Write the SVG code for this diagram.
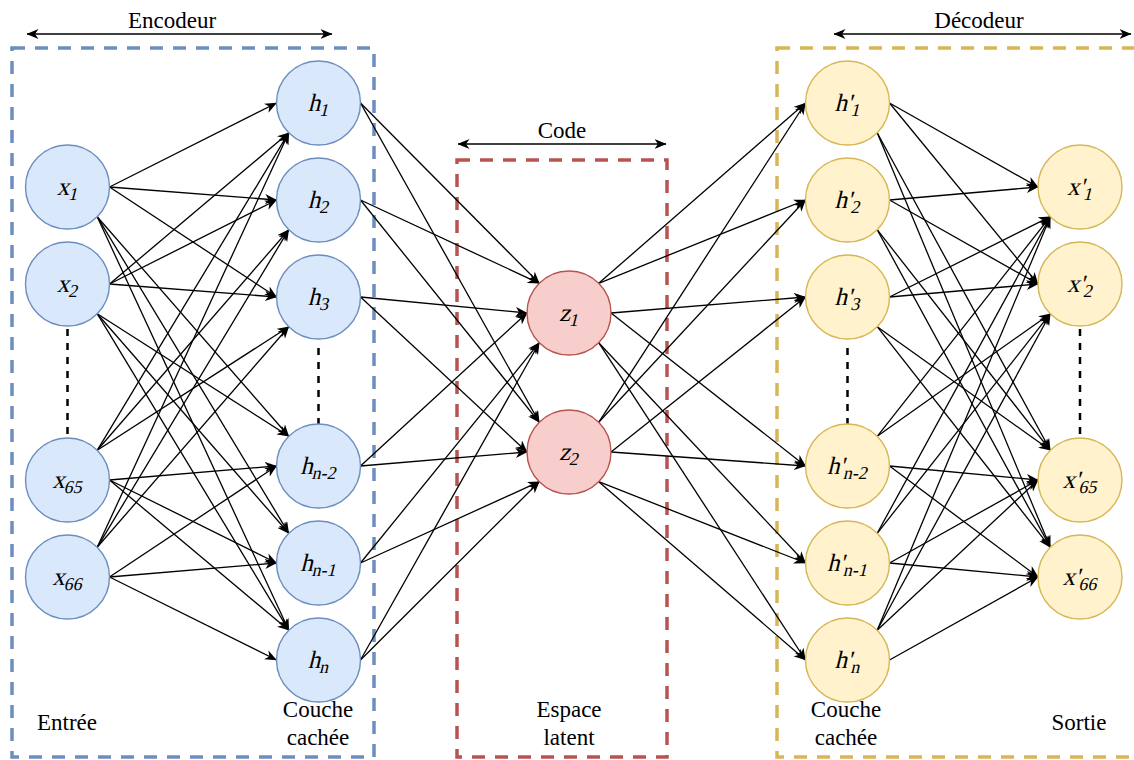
<svg xmlns="http://www.w3.org/2000/svg" width="1134" height="760" viewBox="0 0 1134 760">
<style>
.box{fill:none;stroke-width:3.5;stroke-dasharray:13 10}
.enc{fill:#dae8fc;stroke:#6c8ebf;stroke-width:1.4}
.lat{fill:#f8cecc;stroke:#b85450;stroke-width:1.4}
.dec{fill:#fff2cc;stroke:#d6b656;stroke-width:1.4}
.lbl{font-family:"Liberation Serif",serif;font-size:25px;fill:#000;text-anchor:middle}
.sub{font-size:18px}
.txt{font-family:"Liberation Serif",serif;font-size:23px;fill:#000;text-anchor:middle}
.e{stroke:#000;stroke-width:1.3;fill:none;marker-end:url(#ah)}
.dbl{stroke:#000;stroke-width:1.3;fill:none;marker-end:url(#ah);marker-start:url(#ah)}
.dots{stroke:#000;stroke-width:2.5;stroke-dasharray:7 7;fill:none}
</style>
<defs>
<marker id="ah" markerUnits="userSpaceOnUse" viewBox="0 0 12 10" markerWidth="12" markerHeight="10" refX="11.5" refY="5" orient="auto-start-reverse">
<path d="M0,0 L12,5 L0,10 L3.5,5 Z" fill="#000"/>
</marker>
</defs>
<rect width="1134" height="760" fill="#fff"/>

<g id="group-boxes">
<rect class="box" x="12" y="48" width="362" height="709" stroke="#6c8ebf"/>
<rect class="box" x="457" y="160" width="210" height="597" stroke="#b85450"/>
<rect class="box" x="777" y="48" width="362" height="709" stroke="#d6b656"/>
</g>

<g id="top-labels">
<line class="dbl" x1="27" y1="34" x2="332" y2="34"/>
<text class="txt" x="172" y="28">Encodeur</text>
<line class="dbl" x1="458" y1="144" x2="666" y2="144"/>
<text class="txt" x="562" y="138">Code</text>
<line class="dbl" x1="834" y1="34" x2="1131" y2="34"/>
<text class="txt" x="979" y="28">Décodeur</text>
</g>

<g id="ellipsis">
<line class="dots" x1="67.5" y1="329" x2="67.5" y2="438"/>
<line class="dots" x1="318.5" y1="348" x2="318.5" y2="424"/>
<line class="dots" x1="847.5" y1="348" x2="847.5" y2="424"/>
<line class="dots" x1="1080" y1="329" x2="1080" y2="438"/>
</g>

<g id="connectors">
<line class="e" x1="109.5" y1="187" x2="276.5" y2="103"/>
<line class="e" x1="109.5" y1="187" x2="276.5" y2="200"/>
<line class="e" x1="109.5" y1="187" x2="276.5" y2="297"/>
<line class="e" x1="97.2" y1="216.7" x2="288.8" y2="436.3"/>
<line class="e" x1="97.2" y1="216.7" x2="288.8" y2="533.3"/>
<line class="e" x1="97.2" y1="216.7" x2="288.8" y2="630.3"/>
<line class="e" x1="109.5" y1="284" x2="288.8" y2="132.7"/>
<line class="e" x1="109.5" y1="284" x2="276.5" y2="200"/>
<line class="e" x1="109.5" y1="284" x2="276.5" y2="297"/>
<line class="e" x1="97.2" y1="313.7" x2="288.8" y2="436.3"/>
<line class="e" x1="97.2" y1="313.7" x2="288.8" y2="533.3"/>
<line class="e" x1="97.2" y1="313.7" x2="288.8" y2="630.3"/>
<line class="e" x1="97.2" y1="450.3" x2="288.8" y2="132.7"/>
<line class="e" x1="97.2" y1="450.3" x2="288.8" y2="229.7"/>
<line class="e" x1="97.2" y1="450.3" x2="288.8" y2="326.7"/>
<line class="e" x1="109.5" y1="480" x2="276.5" y2="466"/>
<line class="e" x1="109.5" y1="480" x2="276.5" y2="563"/>
<line class="e" x1="109.5" y1="480" x2="288.8" y2="630.3"/>
<line class="e" x1="97.2" y1="547.3" x2="288.8" y2="132.7"/>
<line class="e" x1="97.2" y1="547.3" x2="288.8" y2="229.7"/>
<line class="e" x1="97.2" y1="547.3" x2="288.8" y2="326.7"/>
<line class="e" x1="109.5" y1="577" x2="276.5" y2="466"/>
<line class="e" x1="109.5" y1="577" x2="276.5" y2="563"/>
<line class="e" x1="109.5" y1="577" x2="276.5" y2="660"/>
<line class="e" x1="360.5" y1="103" x2="539.3" y2="283.3"/>
<line class="e" x1="360.5" y1="103" x2="539.3" y2="422.3"/>
<line class="e" x1="360.5" y1="200" x2="539.3" y2="283.3"/>
<line class="e" x1="360.5" y1="200" x2="539.3" y2="422.3"/>
<line class="e" x1="360.5" y1="297" x2="527" y2="313"/>
<line class="e" x1="360.5" y1="297" x2="527" y2="452"/>
<line class="e" x1="360.5" y1="466" x2="527" y2="313"/>
<line class="e" x1="360.5" y1="466" x2="527" y2="452"/>
<line class="e" x1="360.5" y1="563" x2="539.3" y2="342.7"/>
<line class="e" x1="360.5" y1="563" x2="539.3" y2="481.7"/>
<line class="e" x1="360.5" y1="660" x2="539.3" y2="342.7"/>
<line class="e" x1="360.5" y1="660" x2="539.3" y2="481.7"/>
<line class="e" x1="598.7" y1="283.3" x2="805.5" y2="103"/>
<line class="e" x1="598.7" y1="283.3" x2="805.5" y2="200"/>
<line class="e" x1="611" y1="313" x2="805.5" y2="297"/>
<line class="e" x1="611" y1="313" x2="805.5" y2="466"/>
<line class="e" x1="598.7" y1="342.7" x2="805.5" y2="563"/>
<line class="e" x1="598.7" y1="342.7" x2="805.5" y2="660"/>
<line class="e" x1="598.7" y1="422.3" x2="805.5" y2="103"/>
<line class="e" x1="598.7" y1="422.3" x2="805.5" y2="200"/>
<line class="e" x1="611" y1="452" x2="805.5" y2="297"/>
<line class="e" x1="611" y1="452" x2="805.5" y2="466"/>
<line class="e" x1="598.7" y1="481.7" x2="805.5" y2="563"/>
<line class="e" x1="598.7" y1="481.7" x2="805.5" y2="660"/>
<line class="e" x1="889.5" y1="103" x2="1038" y2="187"/>
<line class="e" x1="889.5" y1="103" x2="1038" y2="284"/>
<line class="e" x1="877.2" y1="132.7" x2="1050.3" y2="450.3"/>
<line class="e" x1="877.2" y1="132.7" x2="1050.3" y2="547.3"/>
<line class="e" x1="889.5" y1="200" x2="1038" y2="187"/>
<line class="e" x1="889.5" y1="200" x2="1038" y2="284"/>
<line class="e" x1="877.2" y1="229.7" x2="1050.3" y2="450.3"/>
<line class="e" x1="877.2" y1="229.7" x2="1050.3" y2="547.3"/>
<line class="e" x1="889.5" y1="297" x2="1050.3" y2="216.7"/>
<line class="e" x1="889.5" y1="297" x2="1038" y2="284"/>
<line class="e" x1="877.2" y1="326.7" x2="1050.3" y2="450.3"/>
<line class="e" x1="877.2" y1="326.7" x2="1050.3" y2="547.3"/>
<line class="e" x1="877.2" y1="436.3" x2="1050.3" y2="216.7"/>
<line class="e" x1="877.2" y1="436.3" x2="1050.3" y2="313.7"/>
<line class="e" x1="889.5" y1="466" x2="1038" y2="480"/>
<line class="e" x1="889.5" y1="466" x2="1038" y2="577"/>
<line class="e" x1="877.2" y1="533.3" x2="1050.3" y2="216.7"/>
<line class="e" x1="877.2" y1="533.3" x2="1050.3" y2="313.7"/>
<line class="e" x1="889.5" y1="563" x2="1038" y2="480"/>
<line class="e" x1="889.5" y1="563" x2="1038" y2="577"/>
<line class="e" x1="877.2" y1="630.3" x2="1050.3" y2="216.7"/>
<line class="e" x1="877.2" y1="630.3" x2="1050.3" y2="313.7"/>
<line class="e" x1="877.2" y1="630.3" x2="1038" y2="480"/>
<line class="e" x1="889.5" y1="660" x2="1038" y2="577"/>
</g>

<g id="node-x1"><circle class="enc" cx="67.5" cy="187" r="42"/><text class="lbl" transform="translate(67.5 195) skewX(-14)">x<tspan class="sub" dy="5">1</tspan></text></g>
<g id="node-x2"><circle class="enc" cx="67.5" cy="284" r="42"/><text class="lbl" transform="translate(67.5 292) skewX(-14)">x<tspan class="sub" dy="5">2</tspan></text></g>
<g id="node-x65"><circle class="enc" cx="67.5" cy="480" r="42"/><text class="lbl" transform="translate(67.5 488) skewX(-14)">x<tspan class="sub" dy="5">65</tspan></text></g>
<g id="node-x66"><circle class="enc" cx="67.5" cy="577" r="42"/><text class="lbl" transform="translate(67.5 585) skewX(-14)">x<tspan class="sub" dy="5">66</tspan></text></g>

<g id="node-h1"><circle class="enc" cx="318.5" cy="103" r="42"/><text class="lbl" transform="translate(318.5 111) skewX(-14)">h<tspan class="sub" dy="5">1</tspan></text></g>
<g id="node-h2"><circle class="enc" cx="318.5" cy="200" r="42"/><text class="lbl" transform="translate(318.5 208) skewX(-14)">h<tspan class="sub" dy="5">2</tspan></text></g>
<g id="node-h3"><circle class="enc" cx="318.5" cy="297" r="42"/><text class="lbl" transform="translate(318.5 305) skewX(-14)">h<tspan class="sub" dy="5">3</tspan></text></g>
<g id="node-hn-2"><circle class="enc" cx="318.5" cy="466" r="42"/><text class="lbl" transform="translate(318.5 474) skewX(-14)">h<tspan class="sub" dy="5">n-2</tspan></text></g>
<g id="node-hn-1"><circle class="enc" cx="318.5" cy="563" r="42"/><text class="lbl" transform="translate(318.5 571) skewX(-14)">h<tspan class="sub" dy="5">n-1</tspan></text></g>
<g id="node-hn"><circle class="enc" cx="318.5" cy="660" r="42"/><text class="lbl" transform="translate(318.5 668) skewX(-14)">h<tspan class="sub" dy="5">n</tspan></text></g>

<g id="node-z1"><circle class="lat" cx="569" cy="313" r="42"/><text class="lbl" transform="translate(569 321) skewX(-14)">z<tspan class="sub" dy="5">1</tspan></text></g>
<g id="node-z2"><circle class="lat" cx="569" cy="452" r="42"/><text class="lbl" transform="translate(569 460) skewX(-14)">z<tspan class="sub" dy="5">2</tspan></text></g>

<g id="node-hp1"><circle class="dec" cx="847.5" cy="103" r="42"/><text class="lbl" transform="translate(847.5 111) skewX(-14)">h'<tspan class="sub" dy="5">1</tspan></text></g>
<g id="node-hp2"><circle class="dec" cx="847.5" cy="200" r="42"/><text class="lbl" transform="translate(847.5 208) skewX(-14)">h'<tspan class="sub" dy="5">2</tspan></text></g>
<g id="node-hp3"><circle class="dec" cx="847.5" cy="297" r="42"/><text class="lbl" transform="translate(847.5 305) skewX(-14)">h'<tspan class="sub" dy="5">3</tspan></text></g>
<g id="node-hpn-2"><circle class="dec" cx="847.5" cy="466" r="42"/><text class="lbl" transform="translate(847.5 474) skewX(-14)">h'<tspan class="sub" dy="5">n-2</tspan></text></g>
<g id="node-hpn-1"><circle class="dec" cx="847.5" cy="563" r="42"/><text class="lbl" transform="translate(847.5 571) skewX(-14)">h'<tspan class="sub" dy="5">n-1</tspan></text></g>
<g id="node-hpn"><circle class="dec" cx="847.5" cy="660" r="42"/><text class="lbl" transform="translate(847.5 668) skewX(-14)">h'<tspan class="sub" dy="5">n</tspan></text></g>

<g id="node-xp1"><circle class="dec" cx="1080" cy="187" r="42"/><text class="lbl" transform="translate(1080 195) skewX(-14)">x'<tspan class="sub" dy="5">1</tspan></text></g>
<g id="node-xp2"><circle class="dec" cx="1080" cy="284" r="42"/><text class="lbl" transform="translate(1080 292) skewX(-14)">x'<tspan class="sub" dy="5">2</tspan></text></g>
<g id="node-xp65"><circle class="dec" cx="1080" cy="480" r="42"/><text class="lbl" transform="translate(1080 488) skewX(-14)">x'<tspan class="sub" dy="5">65</tspan></text></g>
<g id="node-xp66"><circle class="dec" cx="1080" cy="577" r="42"/><text class="lbl" transform="translate(1080 585) skewX(-14)">x'<tspan class="sub" dy="5">66</tspan></text></g>

<g id="bottom-labels">
<text class="txt" x="67" y="730">Entrée</text>
<text class="txt" x="318" y="717">Couche</text>
<text class="txt" x="318" y="745">cachée</text>
<text class="txt" x="569" y="717">Espace</text>
<text class="txt" x="569" y="745">latent</text>
<text class="txt" x="846" y="717">Couche</text>
<text class="txt" x="846" y="745">cachée</text>
<text class="txt" x="1079" y="730">Sortie</text>
</g>
</svg>
